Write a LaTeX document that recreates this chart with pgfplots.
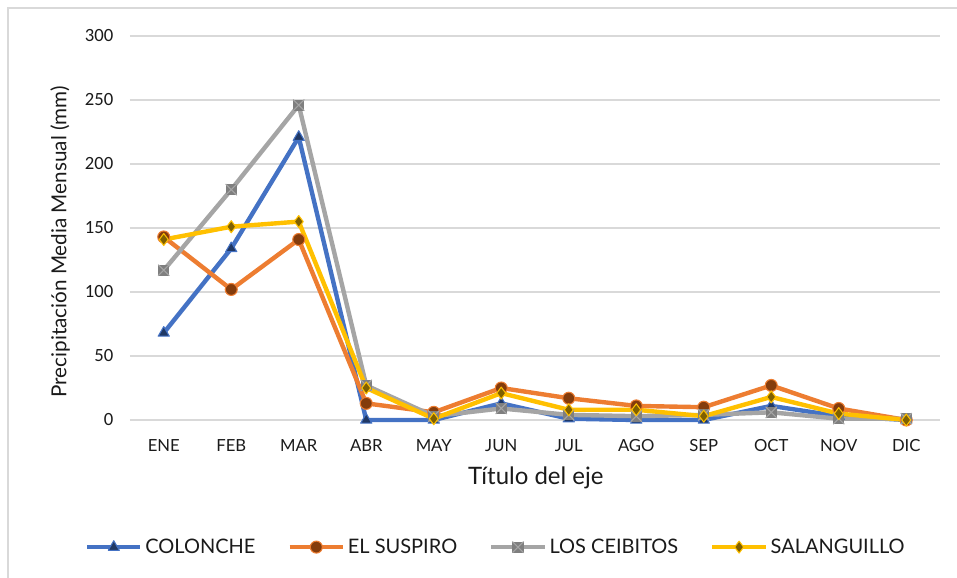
\documentclass[border=0pt]{standalone}
\usepackage{pgfplots}
\pgfplotsset{compat=1.18}
\usepackage{fontspec}
\setmainfont{Lato}
\newfontfamily\numfont{Carlito}
\definecolor{cblue}{HTML}{4472C4}
\definecolor{corange}{HTML}{ED7D31}
\definecolor{cgrey}{HTML}{A5A5A5}
\definecolor{cyellow}{HTML}{FFC000}
\definecolor{dblue}{HTML}{203864}
\definecolor{dorange}{HTML}{843C0C}
\definecolor{dgrey}{HTML}{7F7F7F}
\definecolor{dyellow}{HTML}{7F6000}
\definecolor{gridc}{HTML}{D9D9D9}
\definecolor{txt}{HTML}{1A1A1A}
\pgfdeclareplotmark{boxx}{%
  \pgfpathrectangle{\pgfqpoint{-\pgfplotmarksize}{-\pgfplotmarksize}}{\pgfqpoint{2\pgfplotmarksize}{2\pgfplotmarksize}}%
  \pgfusepathqfill
  \pgfpathmoveto{\pgfqpoint{-\pgfplotmarksize}{-\pgfplotmarksize}}%
  \pgfpathlineto{\pgfqpoint{\pgfplotmarksize}{\pgfplotmarksize}}%
  \pgfpathmoveto{\pgfqpoint{-\pgfplotmarksize}{\pgfplotmarksize}}%
  \pgfpathlineto{\pgfqpoint{\pgfplotmarksize}{-\pgfplotmarksize}}%
  \pgfusepathqstroke
}
\pgfplotstableread{
x col sus cei sal
0 68 143 117 141
1 134 102 180 151
2 221 141 246 155
3 0 13 27 25
4 0 6 3 1
5 13 25 9 21
6 1 17 4 8
7 0 11 3 8
8 0 10 4 3
9 11 27 6 18
10 3 9 1 5
11 0 0 1 0
}\datatable
\begin{document}
\begin{tikzpicture}
\useasboundingbox (-97.5pt,-118.5pt) rectangle (620.25pt,315pt);
\draw[gridc, line width=0.9pt] (-91.5pt,-118.5pt) -- (-91.5pt,309pt) -- (620.25pt,309pt);
\begin{axis}[
  at={(0,0)}, anchor=south west,
  scale only axis, width=607.5pt, height=288pt,
  xmin=-0.5, xmax=11.5, ymin=0, ymax=300,
  xtick={0,...,11},
  xticklabels={ENE,FEB,MAR,ABR,MAY,JUN,JUL,AGO,SEP,OCT,NOV,DIC},
  ytick={0,50,...,300},
  ymajorgrids, grid style={gridc, line width=0.9pt},
  axis line style={draw=none},
  major tick length=0pt,
  /pgf/number format/assume math mode=true,
  yticklabel style={font=\fontsize{14}{16}\selectfont\numfont, text=txt, xshift=-9pt},
  xticklabel style={font=\fontsize{12.5}{15}\selectfont, text=txt, yshift=-11pt},
  xlabel={Título del eje},
  xlabel style={at={(axis description cs:0.501,-0.151)}, anchor=center, font=\fontsize{18}{21}\selectfont, text=txt},
  ylabel={Precipitación Media Mensual (mm)},
  ylabel style={at={(axis description cs:-0.0864,0.4635)}, anchor=center, rotate=0, font=\fontsize{15.5}{18}\selectfont, text=txt},
  clip=false,
  legend columns=4,
  legend style={at={(axis description cs:0.452,-0.331)}, anchor=center, draw=none, fill=none,
    font=\fontsize{15}{18}\selectfont, text=txt,
    /tikz/every even column/.append style={column sep=22pt}},
  legend image code/.code={\draw[mark repeat=2,mark phase=2] plot coordinates {(0pt,0pt)(20pt,0pt)(40pt,0pt)};},
  every axis plot/.append style={line width=3.3pt, line join=round},
]
\addplot[cblue, mark=triangle*, mark size=4.8pt, mark options={fill=dblue, draw=cblue, line width=0.8pt}] table[x=x,y=col] {\datatable};
\addlegendentry{COLONCHE}
\addplot[corange, mark=*, mark size=4.5pt, mark options={fill=dorange, draw=corange, line width=0.8pt}] table[x=x,y=sus] {\datatable};
\addlegendentry{EL SUSPIRO}
\addplot[cgrey, mark=boxx, mark size=4.2pt, mark options={fill=dgrey, draw=cgrey, line width=0.8pt}] table[x=x,y=cei] {\datatable};
\addlegendentry{LOS CEIBITOS}
\addplot[cyellow, mark=diamond*, mark size=4.5pt, mark options={fill=dyellow, draw=cyellow, line width=0.8pt}] table[x=x,y=sal] {\datatable};
\addlegendentry{SALANGUILLO}
\end{axis}
\end{tikzpicture}
\end{document}
